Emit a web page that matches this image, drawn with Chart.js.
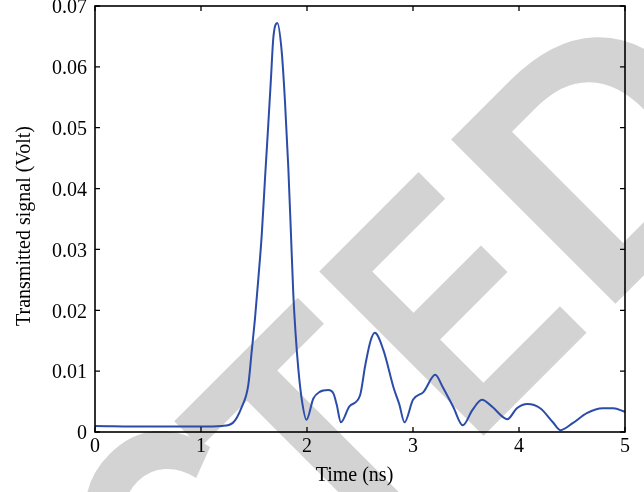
<!DOCTYPE html>
<html>
<head>
<meta charset="utf-8">
<script src="https://cdn.jsdelivr.net/npm/chart.js@4"></script>
<style>
  html, body { margin: 0; padding: 0; background: #fff; }
  #wrap { width: 644px; height: 492px; }
</style>
</head>
<body>
<div id="wrap"><canvas id="chart"></canvas></div>
<script>
// values
const timeNs = [0, 0.5, 1.0, 1.2, 1.3, 1.384, 1.446, 1.478, 1.509, 1.541,
  1.573, 1.604, 1.635, 1.66, 1.682, 1.72, 1.761, 1.792, 1.824, 1.849,
  1.871, 1.893, 1.918, 1.95, 1.995, 2.06, 2.12, 2.2, 2.25, 2.28,
  2.32, 2.4, 2.5, 2.55, 2.6, 2.64, 2.72, 2.82, 2.87, 2.92,
  3.0, 3.1, 3.21, 3.28, 3.38, 3.47, 3.56, 3.65, 3.75, 3.89,
  3.98, 4.08, 4.2, 4.32, 4.39, 4.51, 4.64, 4.79, 4.89, 5.0];
const signalVolt = [0.001, 0.0009, 0.0009, 0.001, 0.0015, 0.0041, 0.0077, 0.0132, 0.0186, 0.0252,
  0.0324, 0.0417, 0.0506, 0.0581, 0.0647, 0.0672, 0.0626, 0.0544, 0.0433, 0.0324,
  0.0226, 0.016, 0.0104, 0.0054, 0.002, 0.0055, 0.0066, 0.0069, 0.0063, 0.0045,
  0.0016, 0.0042, 0.006, 0.011, 0.015, 0.0163, 0.0135, 0.0071, 0.0046, 0.0016,
  0.0053, 0.0066, 0.0094, 0.0074, 0.0041, 0.0011, 0.0036, 0.0053, 0.0041, 0.0021,
  0.0039, 0.0046, 0.0039, 0.0016, 0.0003, 0.0015, 0.0031, 0.0039, 0.0039, 0.0033];

const xTickValues = [0, 1, 2, 3, 4, 5];
const xTickLabels = ['0', '1', '2', '3', '4', '5'];
const yTickValues = [0, 0.01, 0.02, 0.03, 0.04, 0.05, 0.06, 0.07];
const yTickLabels = ['0', '0.01', '0.02', '0.03', '0.04', '0.05', '0.06', '0.07'];

const xTitle = 'Time (ns)';
const yTitle = 'Transmitted signal (Volt)';
const watermarkText = 'RETRACTED';

const serif = '"Liberation Serif", "Times New Roman", serif';

// big diagonal watermark, each letter fitted in a box (u along the text, v across it)
const wmBox = {
  left:  [-1420, -1230, -1050, -860, -610, -329, -175, 32, 218],
  right: [-1240, -1080, -880, -660, -400, -164, 3, 180, 430],
  top: 417,
  bottom: 650
};

const watermarkPlugin = {
  id: 'watermark',
  beforeDraw(chart) {
    const ctx = chart.ctx;
    const r = chart.currentDevicePixelRatio || 1;
    ctx.save();
    ctx.fillStyle = '#ffffff';
    ctx.fillRect(0, 0, chart.width, chart.height);
    ctx.font = 'bold 100px "Liberation Sans", Arial, sans-serif';
    ctx.textAlign = 'left';
    ctx.textBaseline = 'alphabetic';
    const k = Math.SQRT1_2;
    for (let i = 0; i < watermarkText.length; i++) {
      const ch = watermarkText[i];
      const m = ctx.measureText(ch);
      const gl = -m.actualBoundingBoxLeft;
      const gr = m.actualBoundingBoxRight;
      const gt = -m.actualBoundingBoxAscent;
      const gb = m.actualBoundingBoxDescent;
      let top = wmBox.top, bottom = wmBox.bottom;
      if (ch === 'C') { top -= 19; bottom -= 7; }
      const sx = (wmBox.right[i] - wmBox.left[i]) / (gr - gl);
      const sy = (bottom - top) / (gb - gt);
      ctx.setTransform(r * k, -r * k, r * k, r * k, 0, 0);
      ctx.translate(wmBox.left[i] - gl * sx, top - gt * sy);
      ctx.scale(sx, sy);
      ctx.fillStyle = '#d3d3d3';
      ctx.fillText(ch, 0, 0);
    }
    ctx.restore();
  }
};

// box round the plot, inward ticks on all four sides, axis titles
const frameTicksPlugin = {
  id: 'frameTicks',
  afterDatasetsDraw(chart) {
    const {ctx, chartArea: a, scales} = chart;
    const len = 5;
    ctx.save();
    ctx.strokeStyle = '#000';
    ctx.lineWidth = 1.3;
    ctx.beginPath();
    xTickValues.forEach(v => {
      const x = scales.x.getPixelForValue(v);
      ctx.moveTo(x, a.bottom); ctx.lineTo(x, a.bottom - len);
      ctx.moveTo(x, a.top); ctx.lineTo(x, a.top + len);
    });
    yTickValues.forEach(v => {
      const y = scales.y.getPixelForValue(v);
      ctx.moveTo(a.left, y); ctx.lineTo(a.left + len, y);
      ctx.moveTo(a.right, y); ctx.lineTo(a.right - len, y);
    });
    ctx.stroke();
    ctx.lineWidth = 1.6;
    ctx.strokeRect(a.left, a.top, a.right - a.left, a.bottom - a.top);

    ctx.fillStyle = '#000';
    ctx.font = '20px ' + serif;
    ctx.textAlign = 'center';
    ctx.textBaseline = 'alphabetic';
    ctx.fillText(xTitle, (a.left + a.right) / 2 - 5.5, chart.height - 11.5);
    ctx.translate(29.5, (a.top + a.bottom) / 2 + 7);
    ctx.rotate(-Math.PI / 2);
    ctx.fillText(yTitle, 0, 0);
    ctx.restore();
  }
};

const points = timeNs.map((t, i) => ({x: t, y: signalVolt[i]}));

new Chart(document.getElementById('chart'), {
  type: 'line',
  data: {
    datasets: [{
      data: points,
      borderColor: '#2b4ca8',
      borderWidth: 2,
      pointRadius: 0,
      fill: false,
      cubicInterpolationMode: 'monotone'
    }]
  },
  options: {
    responsive: true,
    maintainAspectRatio: false,
    animation: false,
    layout: { padding: { top: 6, right: 19, left: 0, bottom: 0 } },
    plugins: {
      legend: { display: false },
      tooltip: { enabled: false }
    },
    scales: {
      x: {
        type: 'linear',
        min: 0,
        max: 5,
        grid: { display: false, drawTicks: false },
        border: { display: false },
        afterBuildTicks: s => { s.ticks = xTickValues.map(v => ({value: v})); },
        afterFit: s => { s.height = 60; s.paddingLeft = 0; s.paddingRight = 0; },
        ticks: {
          color: '#000',
          font: { family: serif, size: 20 },
          padding: 3,
          maxRotation: 0,
          callback: (v, i) => xTickLabels[i]
        }
      },
      y: {
        min: 0,
        max: 0.07,
        grid: { display: false, drawTicks: false },
        border: { display: false },
        afterBuildTicks: s => { s.ticks = yTickValues.map(v => ({value: v})); },
        afterFit: s => { s.width = 95; s.paddingTop = 0; s.paddingBottom = 0; },
        ticks: {
          color: '#000',
          font: { family: serif, size: 20 },
          padding: 8,
          labelOffset: 2,
          callback: (v, i) => yTickLabels[i]
        }
      }
    }
  },
  plugins: [watermarkPlugin, frameTicksPlugin]
});
</script>
</body>
</html>
